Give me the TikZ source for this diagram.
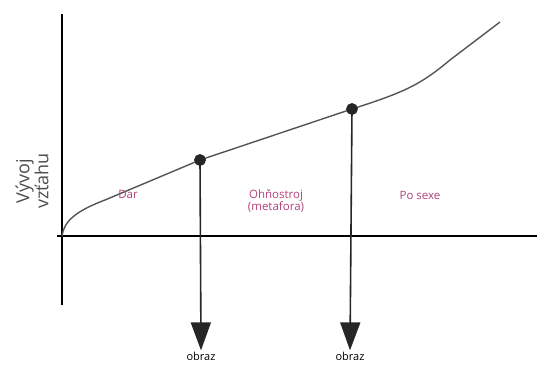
\documentclass[tikz,border=0pt]{standalone}
\usepackage{fontspec}
\setmainfont{Open Sans}
\usetikzlibrary{calc, arrows.meta}
\definecolor{labelpink}{HTML}{B0407A}
\definecolor{curvegray}{HTML}{555555}

\begin{document}
\begin{tikzpicture}[x=1pt, y=-1pt, thick]
  \useasboundingbox (0,0) rectangle (537,367);
  % axes
  \coordinate (O) at (62,236);
  \coordinate (Ytop) at (62,14);
  \coordinate (Ybot) at (62,305);
  \coordinate (Xleft) at (57,236);
  \coordinate (Xright) at (537,236);
  \draw[line width=1.8pt] (Ytop) -- (Ybot);
  \draw[line width=1.8pt] (Xleft) -- (Xright);
  % the two events on the curve
  \coordinate (D1) at (200,160);
  \coordinate (D2) at (352,109);
  \draw[curvegray, line width=1.4pt] (O) .. controls (64,221) and (76,211) .. (105,200)
    -- (D1) -- (D2) .. controls (405,92) and (420,85) .. (450,60) -- (500,22);
  % arrows down to the images
  \node[font=\fontsize{11}{12}\selectfont, inner sep=1pt] (obr1) at (201,356) {obraz};
  \node[font=\fontsize{11}{12}\selectfont, inner sep=1pt] (obr2) at (350,356) {obraz};
  \draw[line width=1.6pt, black!85, -{Triangle[width=20pt, length=28pt]}] (D1) -- (obr1.north);
  \draw[line width=1.6pt, black!85, -{Triangle[width=20pt, length=28pt]}] (D2) -- (obr2.north);
  \filldraw[black!85] (D1) circle (5.5pt);
  \filldraw[black!85] (D2) circle (5.5pt);
  % phases
  \node[labelpink, font=\fontsize{11.5}{12}\selectfont] (dar) at (128,194) {Dar};
  \node[labelpink, font=\fontsize{11.5}{12}\selectfont, align=center] (ohn) at (276,201) {Ohňostroj\\(metafora)};
  \node[labelpink, font=\fontsize{11.5}{12}\selectfont] (sex) at (420,195) {Po sexe};
  % axis label
  \node[rotate=90, align=center, text=black!70, font=\fontsize{18}{15}\selectfont] (ylab) at (32,181) {Vývoj\\vzťahu};
\end{tikzpicture}
\end{document}
